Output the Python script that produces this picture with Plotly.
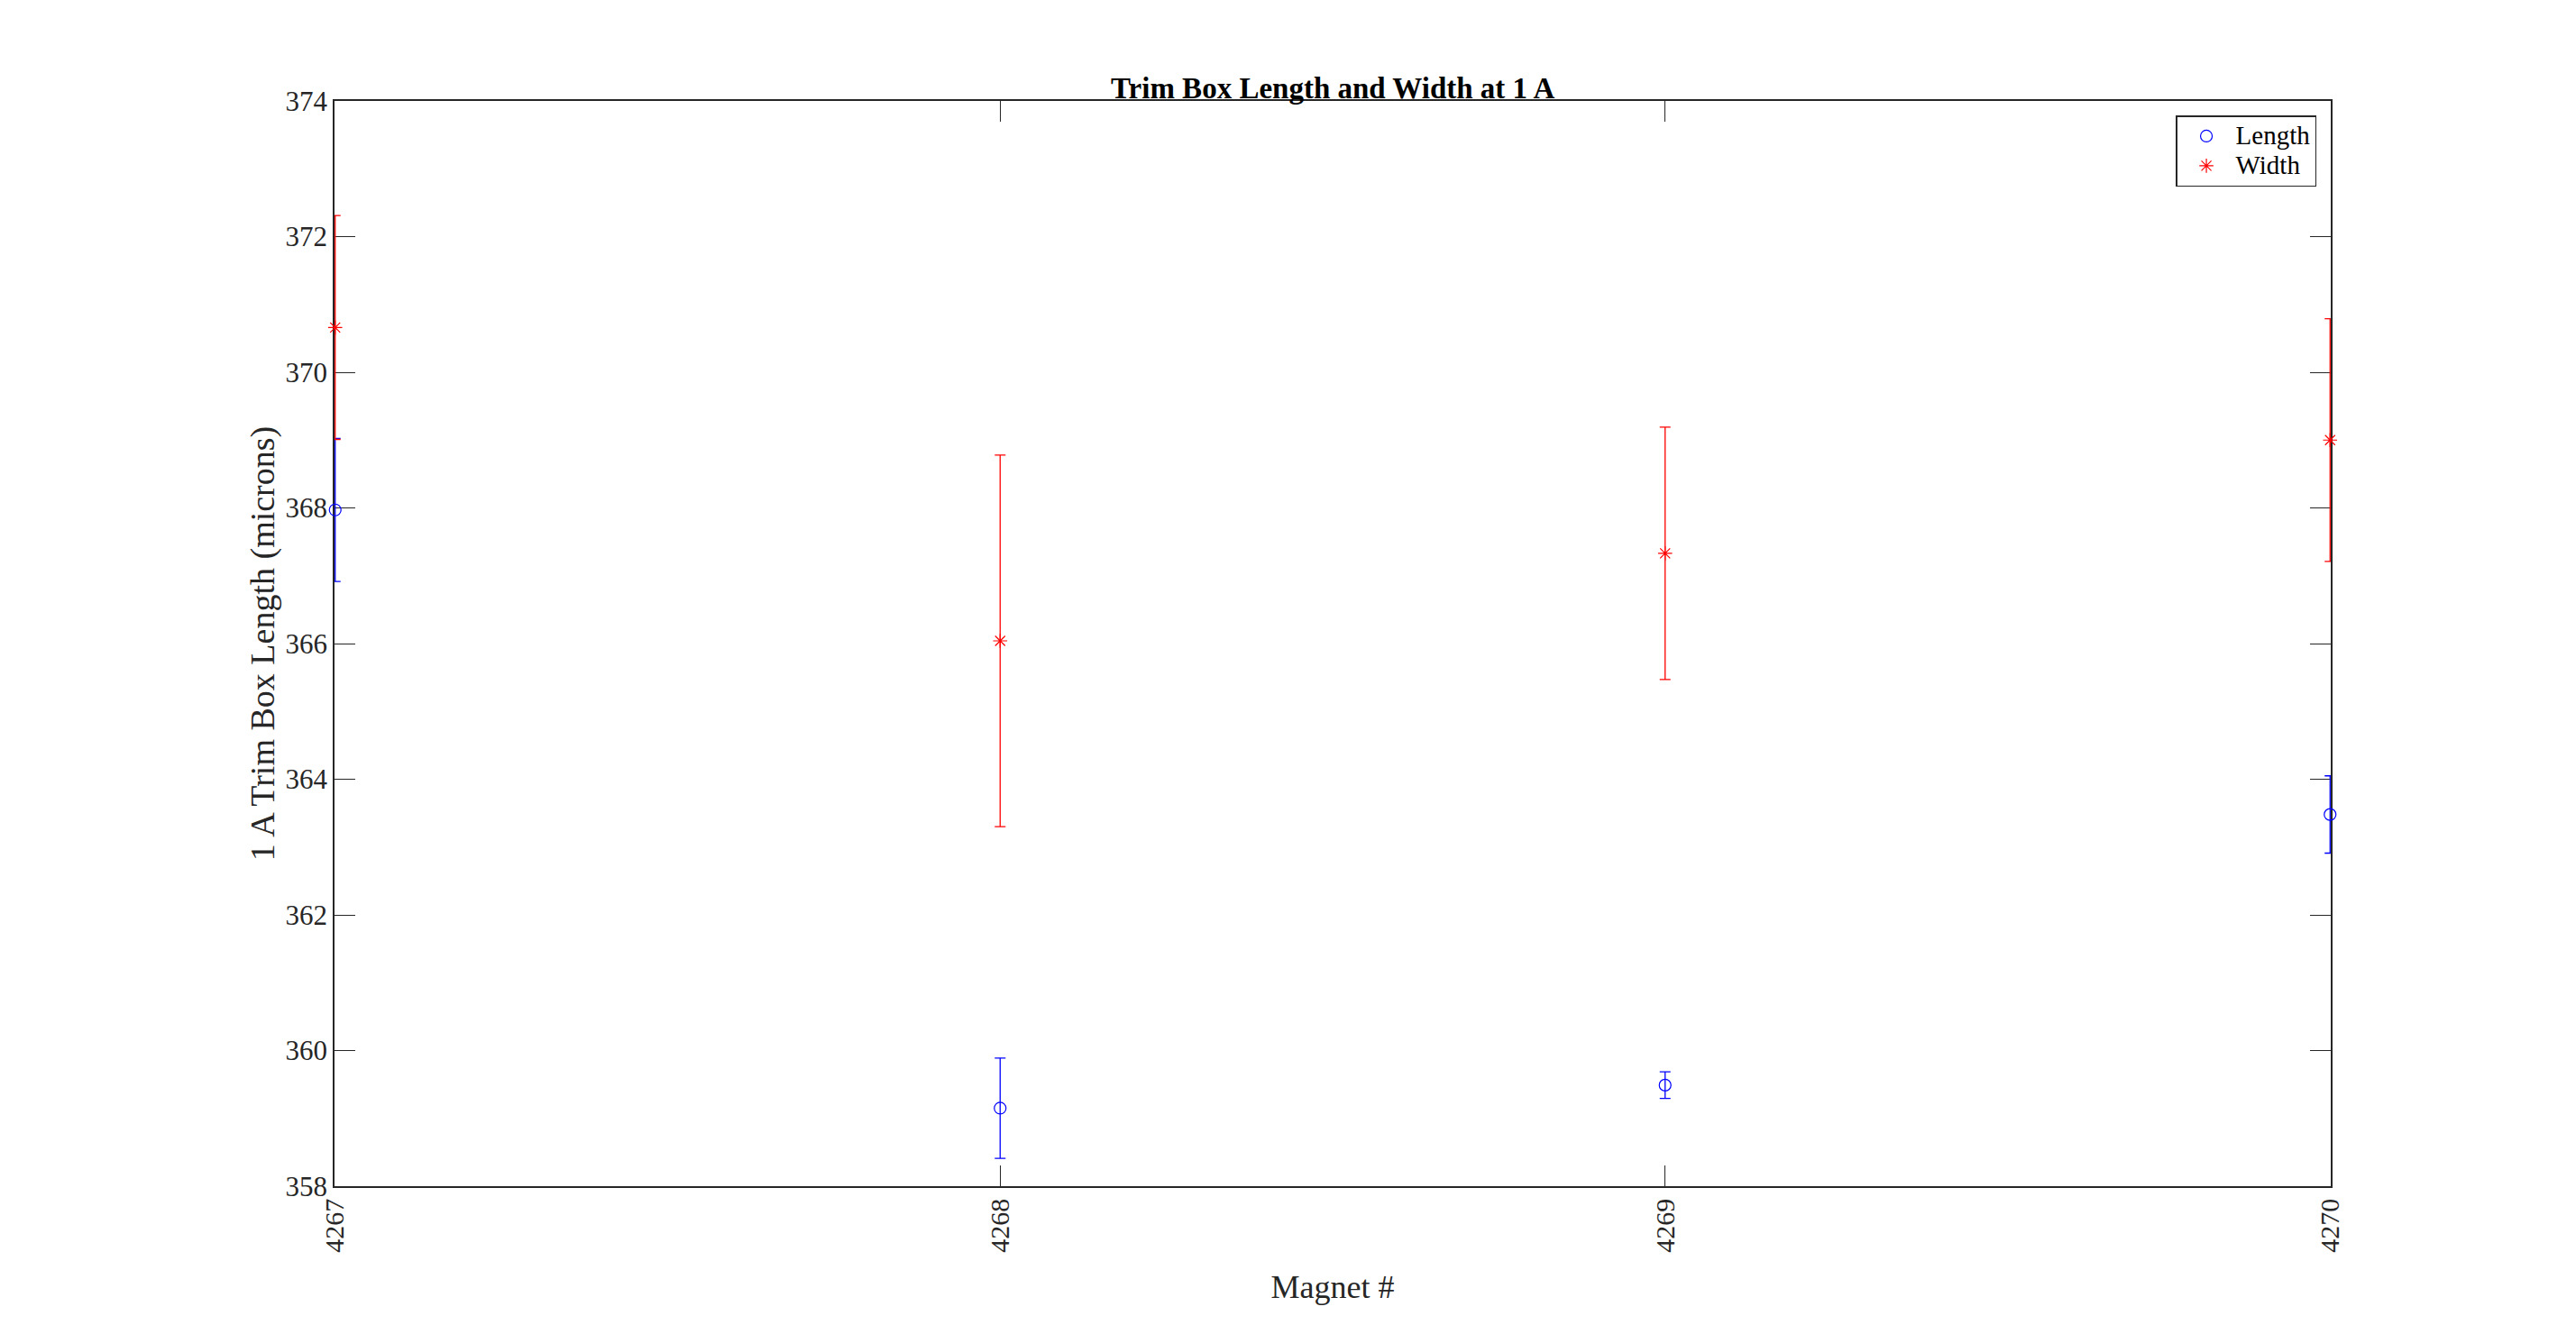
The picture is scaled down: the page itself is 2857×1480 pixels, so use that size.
import plotly.graph_objects as go

magnets = [4267, 4268, 4269, 4270]
tick_labels = ["4267", "4268", "4269", "4270"]
length_vals = [367.97, 359.15, 359.49, 363.48]
length_err = [1.055, 0.74, 0.195, 0.57]
width_vals = [370.66, 366.04, 367.33, 369.00]
width_err = [1.65, 2.74, 1.86, 1.79]
y_ticks = [358, 360, 362, 364, 366, 368, 370, 372, 374]
series_names = ["Length", "Width"]

FONT = "Liberation Serif"
AX = "#262626"

fig = go.Figure()
fig.add_trace(go.Scatter(
    x=magnets, y=length_vals, mode="markers",
    name="<span style='font-size:29px'>%s</span>" % series_names[0],
    marker=dict(symbol="circle-open", size=13, color="#0000ff", line=dict(width=1.2)),
    error_y=dict(type="data", array=length_err, visible=True, color="#0000ff", thickness=1.3, width=6),
    cliponaxis=False,
))
fig.add_trace(go.Scatter(
    x=magnets, y=width_vals, mode="markers",
    name="<span style='font-size:29px'>%s</span>" % series_names[1],
    marker=dict(symbol="asterisk-open", size=13, color="#ff0000", line=dict(width=1.2, color="#ff0000")),
    error_y=dict(type="data", array=width_err, visible=True, color="#ff0000", thickness=1.3, width=6),
    cliponaxis=False,
))

fig.update_layout(
    width=2849, height=1472,
    margin=dict(l=363, r=272, t=104, b=164, autoexpand=False),
    paper_bgcolor="white", plot_bgcolor="white",
    font=dict(family=FONT, color=AX, size=30),
    showlegend=True,
    legend=dict(
        x=0.9928, y=0.9867, xanchor="right", yanchor="top",
        bordercolor=AX, borderwidth=1.5, bgcolor="white",
        font=dict(family=FONT, size=23, color="black"),
        itemwidth=55, tracegroupgap=0,
    ),
    annotations=[dict(
        text="<b>Trim Box Length and Width at 1 A</b>",
        xref="paper", yref="paper", x=0.5, y=1, xanchor="center", yanchor="bottom",
        yshift=-6, showarrow=False,
        font=dict(family=FONT, size=33, color="black"),
    )],
)

fig.update_xaxes(
    range=[4267 - 0.001, 4270 + 0.001], tickmode="array", tickvals=magnets, ticktext=tick_labels,
    tickangle=-90, ticks="inside", ticklen=23, tickwidth=1.2, tickcolor=AX,
    showline=True, linecolor=AX, linewidth=1.5, mirror="ticks",
    showgrid=False, zeroline=False, layer="below traces",
    tickfont=dict(family=FONT, size=30, color=AX),
    title=dict(text="Magnet #", font=dict(family=FONT, size=36, color=AX), standoff=26),
)
fig.update_yaxes(
    range=[358, 374], tickmode="array", tickvals=y_ticks,
    ticks="inside", ticklen=23, tickwidth=1.2, tickcolor=AX,
    showline=True, linecolor=AX, linewidth=1.5, mirror="ticks",
    showgrid=False, zeroline=False, layer="below traces",
    tickfont=dict(family=FONT, size=31, color=AX),
    title=dict(text="1 A Trim Box Length (microns)", font=dict(family=FONT, size=38, color=AX), standoff=0),
)

fig.write_html("out.html")
